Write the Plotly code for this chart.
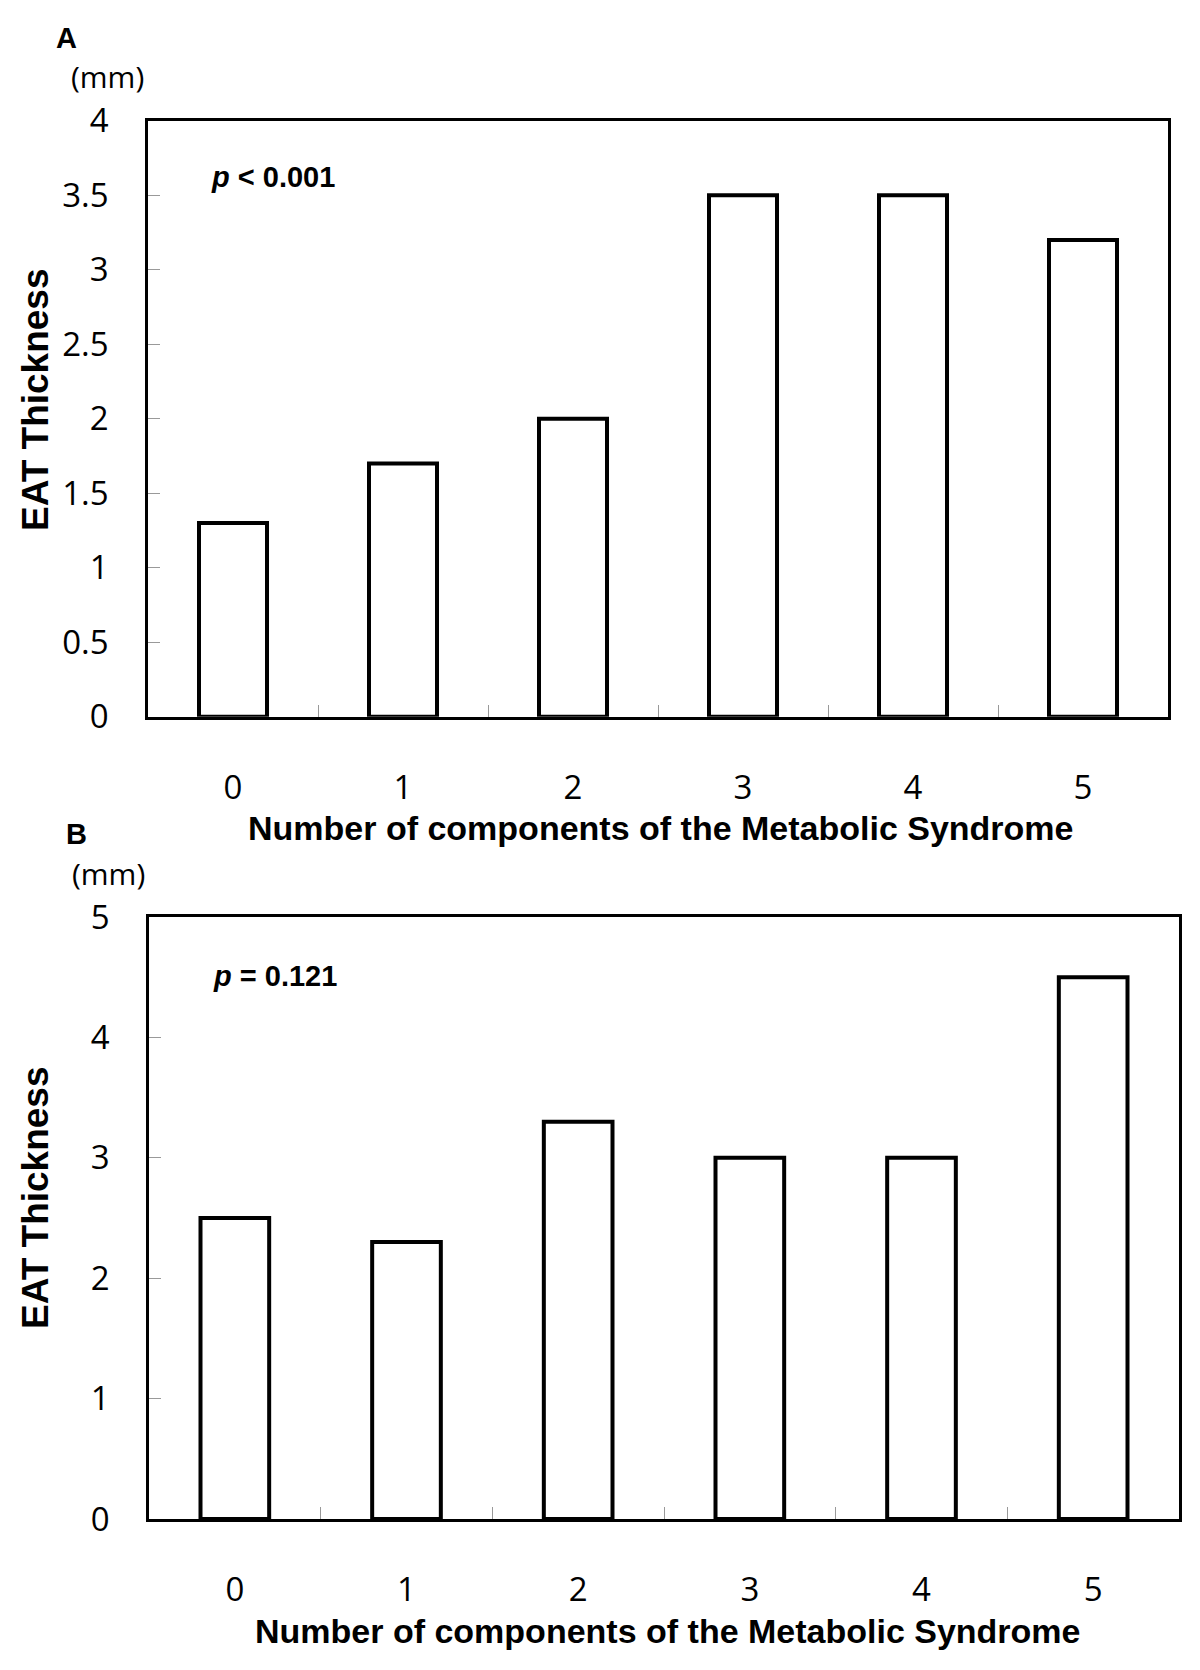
import plotly.graph_objects as go

# data
components = ["0", "1", "2", "3", "4", "5"]
eat_a = [1.3, 1.7, 2.0, 3.5, 3.5, 3.2]
eat_b = [2.5, 2.3, 3.3, 3.0, 3.0, 4.5]
ticks_a = [0, 0.5, 1, 1.5, 2, 2.5, 3, 3.5, 4]
ticklabels_a = ["0", "0.5", "1", "1.5", "2", "2.5", "3", "3.5", "4"]
ticks_b = [0, 1, 2, 3, 4, 5]
ticklabels_b = ["0", "1", "2", "3", "4", "5"]

W, H = 1200, 1670
OFF = 8  # page body margin


def px(x):
    return (x - OFF) / W


def py(y):
    return 1 - (y - OFF) / H


tick_font = dict(family="Open Sans", size=33, color="black")
bold_font = dict(family="Liberation Sans", size=34, color="black")

fig = go.Figure()

fig.add_trace(go.Bar(x=components, y=eat_a, width=0.4, xaxis="x", yaxis="y",
                     marker=dict(color="white", line=dict(color="black", width=4)),
                     showlegend=False))
fig.add_trace(go.Bar(x=components, y=eat_b, width=0.4, xaxis="x2", yaxis="y2",
                     marker=dict(color="white", line=dict(color="black", width=4)),
                     showlegend=False))

xcommon = dict(type="category", showline=True, mirror=True, linecolor="black", linewidth=2.5,
               ticks="inside", tickson="boundaries", ticklen=12, tickcolor="#999999", tickwidth=1,
               tickfont=tick_font, ticklabelstandoff=40, showgrid=False, zeroline=False,
               automargin=False)
ycommon = dict(showline=True, mirror=True, linecolor="black", linewidth=2.5,
               ticks="inside", ticklen=12, tickcolor="#999999", tickwidth=1,
               tickfont=tick_font, ticklabelstandoff=30, showgrid=False, zeroline=False,
               automargin=False)

fig.update_layout(
    width=W, height=H, autosize=False,
    margin=dict(l=0, r=0, t=0, b=0, pad=0, autoexpand=False),
    plot_bgcolor="white", paper_bgcolor="white",
    xaxis=dict(xcommon, domain=[px(148), px(1168)], anchor="y"),
    yaxis=dict(ycommon, domain=[py(716.7), py(120.7)], anchor="x", range=[0, 4],
               tickvals=ticks_a, ticktext=ticklabels_a),
    xaxis2=dict(xcommon, domain=[px(149), px(1179)], anchor="y2"),
    yaxis2=dict(ycommon, domain=[py(1519), py(917)], anchor="x2", range=[0, 5],
                tickvals=ticks_b, ticktext=ticklabels_b),
)

ann = []
# panel letters
ann.append(dict(text="<b>A</b>", x=px(66), y=py(38), font=dict(family="Liberation Sans", size=29)))
ann.append(dict(text="<b>B</b>", x=px(76), y=py(834), font=dict(family="Liberation Sans", size=29)))
# units
ann.append(dict(text="(mm)", x=px(107), y=py(77), font=dict(family="Open Sans", size=30)))
ann.append(dict(text="(mm)", x=px(108), y=py(873), font=dict(family="Open Sans", size=30)))
# p values
ann.append(dict(text="<b><i>p</i> &lt; 0.001</b>", x=px(209), y=py(177), xanchor="left",
                font=dict(family="Liberation Sans", size=29)))
ann.append(dict(text="<b><i>p</i> = 0.121</b>", x=px(211), y=py(976), xanchor="left",
                font=dict(family="Liberation Sans", size=29)))
# y titles
ann.append(dict(text="<b>EAT Thickness</b>", x=px(35), y=py(400), textangle=-90,
                font=dict(family="Liberation Sans", size=37)))
ann.append(dict(text="<b>EAT Thickness</b>", x=px(35), y=py(1198), textangle=-90,
                font=dict(family="Liberation Sans", size=37)))
# x titles
ann.append(dict(text="<b>Number of components of the Metabolic Syndrome</b>", x=px(661), y=py(828),
                font=bold_font))
ann.append(dict(text="<b>Number of components of the Metabolic Syndrome</b>", x=px(668), y=py(1631),
                font=bold_font))

for a in ann:
    a.setdefault("xanchor", "center")
    a.update(xref="paper", yref="paper", yanchor="middle", showarrow=False)
    a["font"].setdefault("color", "black")
fig.update_layout(annotations=ann)

fig.write_html("out.html")
